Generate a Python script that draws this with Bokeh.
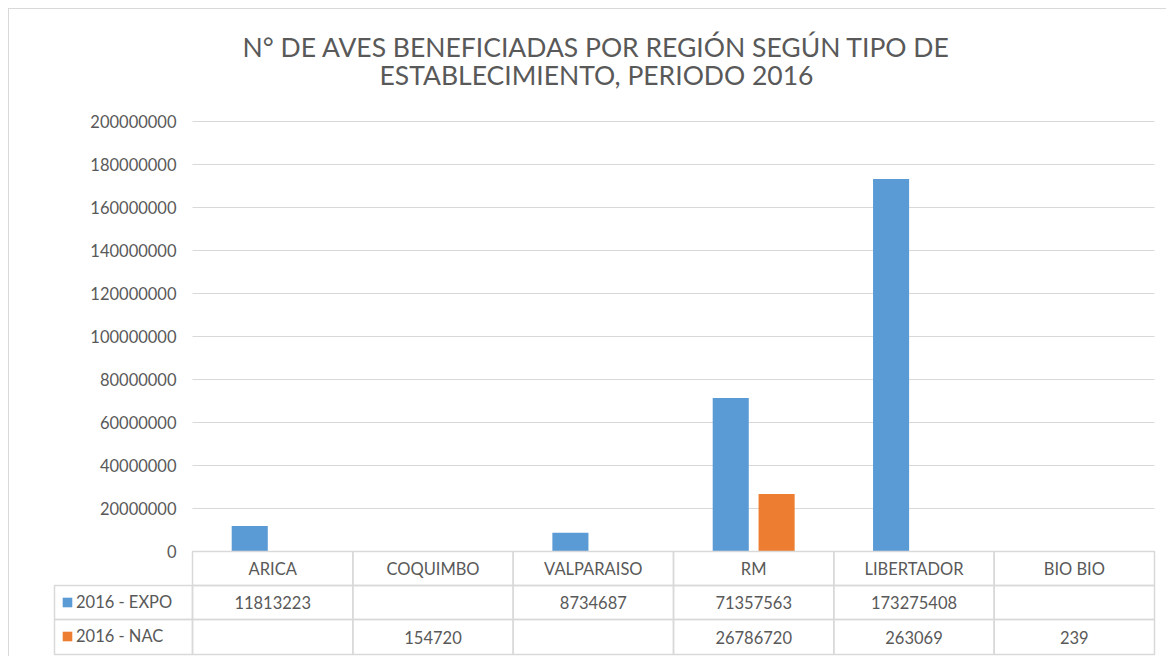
from bokeh.plotting import figure
from bokeh.models import (ColumnDataSource, FixedTicker, BasicTickFormatter, Range1d,
                          Legend, LegendItem, Label)
from bokeh.embed import file_html
from bokeh.resources import INLINE
from bokeh.core.properties import value

# ---------------- data ----------------
regions = ["ARICA", "COQUIMBO", "VALPARAISO", "RM", "LIBERTADOR", "BIO BIO"]
expo = [11813223, None, 8734687, 71357563, 173275408, None]
nac = [None, 154720, None, 26786720, 263069, 239]
series_names = ["2016 - EXPO", "2016 - NAC"]
y_ticks = [0, 20000000, 40000000, 60000000, 80000000, 100000000,
           120000000, 140000000, 160000000, 180000000, 200000000]
title_lines = ["N° DE AVES BENEFICIADAS POR REGIÓN SEGÚN TIPO DE",
               "ESTABLECIMIENTO, PERIODO 2016"]

# ---------------- style ----------------
FONT = "Lato"
TXT = "#595959"
GRID = "#d9d9d9"
C_EXPO = "#5b9bd5"
C_NAC = "#ed7d31"
PX = 20000000 / 43.0      # value units per screen pixel (vertical)
U = 1 / 160.33            # category units per screen pixel (horizontal)
ROW_H = [34, 34, 35]      # table row heights in px
LEG_W = 138 * U           # width of the legend column of the table

idx = list(range(len(regions)))
nan = float("nan")


def nz(v):
    return nan if v is None else v


def cell(v):
    return "" if v is None else str(v)


r0_top, r0_bot = 0.0, -ROW_H[0] * PX
r1_top, r1_bot = r0_bot, r0_bot - ROW_H[1] * PX
r2_top, r2_bot = r1_bot, r1_bot - ROW_H[2] * PX
n = len(idx)

src = ColumnDataSource(dict(
    x_expo=[i + 0.5 - 0.143 for i in idx],
    x_nac=[i + 0.5 + 0.143 for i in idx],
    expo=[nz(v) for v in expo],
    nac=[nz(v) for v in nac],
    left=[float(i) for i in idx],
    right=[float(i + 1) for i in idx],
    xc=[i + 0.5 for i in idx],
    region=regions,
    expo_txt=[cell(v) for v in expo],
    nac_txt=[cell(v) for v in nac],
    y_head=[(r0_top + r0_bot) / 2] * n,
    y_r1=[(r1_top + r1_bot) / 2] * n,
    y_r2=[(r2_top + r2_bot) / 2] * n,
    h_top=[r0_top] * n, h_bot=[r0_bot] * n,
    a_top=[r1_top] * n, a_bot=[r1_bot] * n,
    b_top=[r2_top] * n, b_bot=[r2_bot] * n,
))

p = figure(width=1158, height=648, output_backend="svg", toolbar_location=None,
           x_range=Range1d(-140 * U, 6 + 2 * U),
           y_range=Range1d(-105 * PX, 542 * PX),
           min_border_left=43, min_border_right=11,
           min_border_top=0, min_border_bottom=1,
           background_fill_color="white", border_fill_color="white")
p.outline_line_color = None
p.styles = {"margin-left": "8px", "margin-top": "8px",
            "border-left": "1px solid #d9d9d9", "border-top": "1px solid #d9d9d9"}

# title (two centred lines)
p.title.visible = False
for line, y_px in ((title_lines[0], 505), (title_lines[1], 476.5)):
    p.add_layout(Label(x=404 * U, y=y_px * PX, text=line, text_align="center",
                       text_baseline="middle", text_font=FONT,
                       text_font_size="26.5px", text_color=TXT))

# axes / grid
p.xaxis.visible = False
p.xgrid.visible = False
yax = p.yaxis[0]
yax.fixed_location = 0
yax.bounds = (0, y_ticks[-1])
yax.ticker = FixedTicker(ticks=y_ticks)
yax.formatter = BasicTickFormatter(use_scientific=False)
yax.axis_line_color = None
yax.major_tick_line_color = None
yax.minor_tick_line_color = None
yax.major_tick_out = 0
yax.major_tick_in = 0
yax.minor_tick_out = 0
yax.major_label_standoff = 16
yax.major_label_text_font = FONT
yax.major_label_text_font_size = "16.5px"
yax.major_label_text_color = TXT

grid = p.ygrid[0]
if hasattr(grid, "cross_bounds"):
    grid.ticker = FixedTicker(ticks=y_ticks[1:])
    grid.cross_bounds = (0, 6)
    grid.grid_line_color = GRID
    grid.grid_line_width = 1
else:
    grid.visible = False
    p.segment(x0=[0] * (len(y_ticks) - 1), x1=[6] * (len(y_ticks) - 1),
              y0=y_ticks[1:], y1=y_ticks[1:], line_color=GRID, line_width=1)

# bars
r_expo = p.vbar(x="x_expo", top="expo", bottom=0, width=0.225, source=src,
                fill_color=C_EXPO, line_color=None)
r_nac = p.vbar(x="x_nac", top="nac", bottom=0, width=0.225, source=src,
               fill_color=C_NAC, line_color=None)

# data table cells
for t, b in (("h_top", "h_bot"), ("a_top", "a_bot"), ("b_top", "b_bot")):
    p.quad(left="left", right="right", top=t, bottom=b, source=src,
           fill_alpha=0, line_color=GRID, line_width=1.5)
p.quad(left=[-LEG_W, -LEG_W], right=[0, 0], top=[r1_top, r2_top],
       bottom=[r1_bot, r2_bot], fill_alpha=0, line_color=GRID, line_width=1.5)

txt_kw = dict(source=src, text_font=value(FONT), text_font_size="16.5px",
              text_color=TXT, text_align="center", text_baseline="middle")
p.text(x="xc", y="y_head", text="region", **txt_kw)
p.text(x="xc", y="y_r1", text="expo_txt", **txt_kw)
p.text(x="xc", y="y_r2", text="nac_txt", **txt_kw)

legend = Legend(items=[LegendItem(label=series_names[0], renderers=[r_expo]),
                       LegendItem(label=series_names[1], renderers=[r_nac])],
                location=(9, 10), orientation="vertical",
                glyph_width=12, glyph_height=12, label_height=20, label_width=10,
                spacing=14, padding=0, margin=0, label_standoff=3,
                label_text_font=FONT, label_text_font_size="16.5px",
                label_text_color=TXT,
                border_line_color=None, background_fill_alpha=0)
p.add_layout(legend)

open("out.html", "w").write(file_html(p, INLINE))
